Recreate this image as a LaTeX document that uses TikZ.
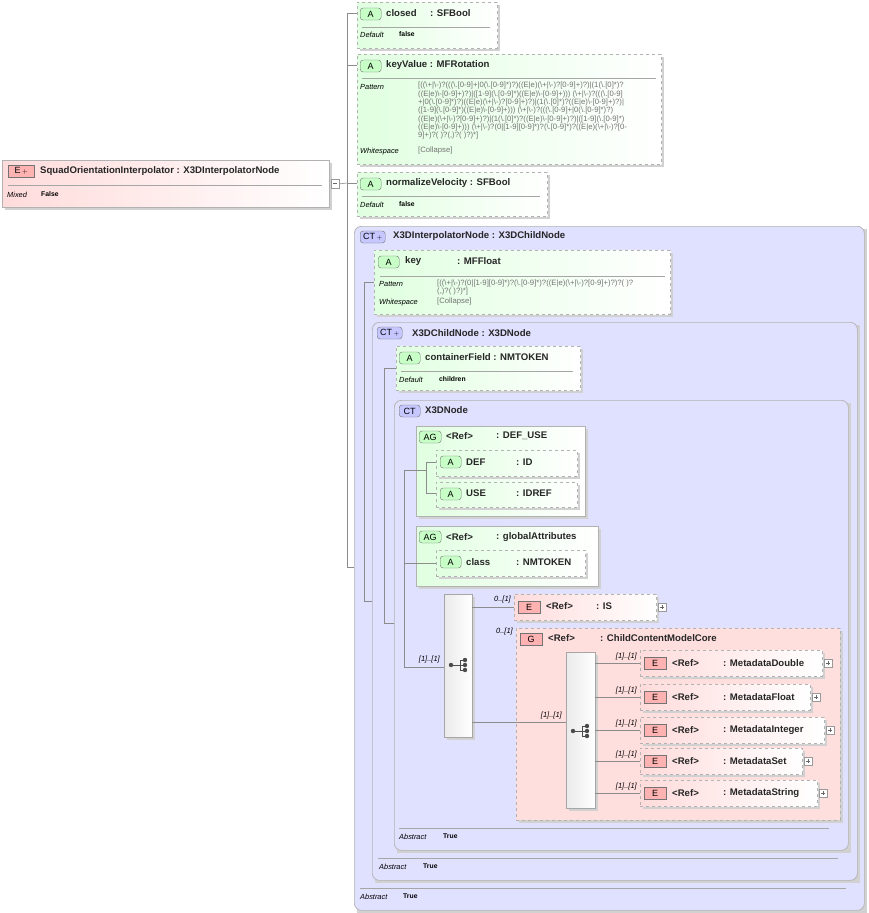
\documentclass[tikz,border=0pt]{standalone}
\usepackage{fontspec}
\setmainfont{Liberation Sans}
\begin{document}
\begin{tikzpicture}[x=1pt,y=-1pt,
  hdr/.style={font=\fontsize{9.6}{11}\selectfont\bfseries,anchor=west,inner sep=0,text=black!85},
  sm/.style={font=\fontsize{7.4}{8}\selectfont\itshape,anchor=west,inner sep=0},
  smb/.style={font=\fontsize{6.8}{8}\selectfont\bfseries,anchor=west,inner sep=0},
  pat/.style={font=\fontsize{7.7}{8}\selectfont,anchor=west,inner sep=0,text=black!55},
  lbl/.style={font=\fontsize{7.5}{8}\selectfont\itshape,inner sep=0},
  conn/.style={draw=black!45,line width=0.6pt},
]
\useasboundingbox (0,0) rectangle (869,913);
\newcommand\mybox[6]{%
  \fill[black!18] (#3+3,#4+3) rectangle (#5+3,#6+3);
  \node[#1,minimum width={(#5)-(#3)},minimum height={(#6)-(#4)},inner sep=0,anchor=north west] (#2) at (#3,#4) {};}
\tikzset{
 attr/.style={draw=black!30,dashed,line width=0.7pt,left color=green!12,right color=white},
 elem/.style={draw=black!30,dashed,line width=0.7pt,left color=red!14,right color=white},
 elems/.style={draw=black!30,line width=0.7pt,left color=red!14,right color=white},
 grp/.style={draw=black!30,dashed,line width=0.7pt,fill=red!13},
 ag/.style={draw=black!30,line width=0.7pt,left color=green!12,right color=white},
 ct/.style={draw=black!30,line width=0.7pt,fill=blue!12,rounded corners=7pt},
 seq/.style={draw=black!35,line width=0.7pt,left color=black!8,right color=white},
 bdg/.style={draw=black!55,rounded corners=3pt,minimum width=21pt,minimum height=12pt,inner sep=0,font=\fontsize{9}{9}\selectfont,anchor=west},
 bA/.style={bdg,fill=green!22},
 bAG/.style={bdg,fill=green!22,minimum width=22pt},
 bE/.style={bdg,rounded corners=0,fill=red!30,minimum width=22pt},
 bCT/.style={bdg,fill=blue!22,minimum width=25pt},
}
\newcommand\sepl[3]{\draw[black!35,line width=0.6pt] (#1,#3) -- (#2,#3);}
\newcommand\plusb[2]{\draw[black!40,fill=white] (#1,#2-4) rectangle (#1+8,#2+4); \draw[black!60] (#1+2,#2) -- (#1+6,#2) (#1+4,#2-2) -- (#1+4,#2+2);}
\newcommand\seqicon[2]{\fill[black!70] (#1-7,#2) circle (2.2) (#1+7,#2-5) circle (2.2) (#1+7,#2) circle (2.2) (#1+7,#2+5) circle (2.2);
 \draw[black!70,line width=0.8pt] (#1-7,#2) -- (#1+2,#2) (#1+2,#2-5) -- (#1+2,#2+5) (#1+2,#2-5)--(#1+7,#2-5) (#1+2,#2+5)--(#1+7,#2+5) (#1+2,#2)--(#1+7,#2);}

% ===== CT boxes
\mybox{ct}{ctI}{354}{226}{864}{910}
\node[bCT] at (360,237) {CT\,$\scriptstyle+$};
\node[hdr] at (393,236) {X3DInterpolatorNode : X3DChildNode};
\sepl{360}{846}{888}
\node[sm] at (360,897) {Abstract}; \node[smb] at (403,896) {True};

\mybox{ct}{ctC}{372}{322}{857}{880}
\node[bCT] at (377,333) {CT\,$\scriptstyle+$};
\node[hdr] at (412,333) {X3DChildNode : X3DNode};
\sepl{378}{838}{858}
\node[sm] at (379,867) {Abstract}; \node[smb] at (423,866) {True};

\mybox{ct}{ctN}{394}{400}{848}{850}
\node[bCT,minimum width=21pt] at (399,411) {CT};
\node[hdr] at (425,410) {X3DNode};
\sepl{399}{829}{828}
\node[sm] at (399,837) {Abstract}; \node[smb] at (443,836) {True};

% ===== root
\mybox{elems}{root}{2}{160}{329}{207}
\node[bE,minimum width=26pt] at (8,171) {E\,$\scriptstyle+$};
\node[hdr] at (40,171) {SquadOrientationInterpolator : X3DInterpolatorNode};
\sepl{8}{322}{185}
\node[sm] at (7,195) {Mixed}; \node[smb] at (41,194) {False};
\draw[black!40,fill=white] (331,179) rectangle (339,188); \draw[black!60] (333,183.5) -- (337,183.5);

% ===== closed
\mybox{attr}{closed}{357}{2}{497}{48}
\node[bA] at (360,14) {A};
\node[hdr] at (386,13) {closed}; \node[hdr] at (430,13) {: SFBool};
\sepl{362}{490}{27}
\node[sm] at (360,35) {Default}; \node[smb] at (399,34) {false};

% ===== keyValue
\mybox{attr}{keyValue}{357}{54}{661}{164}
\node[bA] at (360,66) {A};
\node[hdr] at (386,65) {keyValue : MFRotation};
\sepl{362}{656}{78}
\node[sm] at (360,87) {Pattern};
\node[pat] at (418,86) {\detokenize{[((\+|\-)?(((\.[0-9]+|0(\.[0-9]*)?)((E|e)(\+|\-)?[0-9]+)?)|(1(\.[0]*)?}};
\node[pat] at (418,94.3) {\detokenize{((E|e)\-[0-9]+)?)|([1-9](\.[0-9]*)((E|e)\-[0-9]+))) (\+|\-)?(((\.[0-9]}};
\node[pat] at (418,102.6) {\detokenize{+|0(\.[0-9]*)?)((E|e)(\+|\-)?[0-9]+)?)|(1(\.[0]*)?((E|e)\-[0-9]+)?)|}};
\node[pat] at (418,110.9) {\detokenize{([1-9](\.[0-9]*)((E|e)\-[0-9]+))) (\+|\-)?(((\.[0-9]+|0(\.[0-9]*)?)}};
\node[pat] at (418,119.2) {\detokenize{((E|e)(\+|\-)?[0-9]+)?)|(1(\.[0]*)?((E|e)\-[0-9]+)?)|([1-9](\.[0-9]*)}};
\node[pat] at (418,127.5) {\detokenize{((E|e)\-[0-9]+))) (\+|\-)?(0|[1-9][0-9]*)?(\.[0-9]*)?((E|e)(\+|\-)?[0-}};
\node[pat] at (418,135.8) {\detokenize{9]+)?( )?(,)?( )?)*]}};
\node[sm] at (360,152) {Whitespace}; \node[pat] at (418,151) {[Collapse]};

% ===== normalizeVelocity
\mybox{attr}{normV}{357}{172}{547}{216}
\node[bA] at (360,184) {A};
\node[hdr] at (386,183) {normalizeVelocity : SFBool};
\sepl{362}{540}{196}
\node[sm] at (360,205) {Default}; \node[smb] at (399,204) {false};

% ===== key
\mybox{attr}{key}{374}{250}{670}{314}
\node[bA] at (378,262) {A};
\node[hdr] at (405,261) {key}; \node[hdr] at (457,261) {: MFFloat};
\sepl{380}{665}{276}
\node[sm] at (379,284) {Pattern};
\node[pat] at (437,283.5) {\detokenize{[((\+|\-)?(0|[1-9][0-9]*)?(\.[0-9]*)?((E|e)(\+|\-)?[0-9]+)?)?( )?}};
\node[pat] at (437,292) {\detokenize{(,)?( )?)*]}};
\node[sm] at (379,303) {Whitespace}; \node[pat] at (437,302) {[Collapse]};

% ===== containerField
\mybox{attr}{cF}{396}{346}{580}{390}
\node[bA] at (399,358) {A};
\node[hdr] at (425,357) {containerField : NMTOKEN};
\sepl{401}{573}{371}
\node[sm] at (399,380) {Default}; \node[smb] at (439,379) {children};

% ===== AG DEF_USE
\mybox{ag}{agDU}{416}{426}{585}{516}
\node[bAG] at (419,437) {AG};
\node[hdr] at (446,436) {<Ref>}; \node[hdr] at (496,436) {: DEF\_USE};
\mybox{attr}{def}{436}{450}{577}{476}
\node[bA] at (440,462) {A};
\node[hdr] at (466,462) {DEF}; \node[hdr] at (516,462) {: ID};
\mybox{attr}{use}{436}{482}{577}{507}
\node[bA] at (440,494) {A};
\node[hdr] at (466,493) {USE}; \node[hdr] at (516,493) {: IDREF};
\draw[conn] (416,470) -- (426,470) (426,462) -- (426,493) (426,462) -- (436,462) (426,493) -- (436,493);

% ===== AG globalAttributes
\mybox{ag}{agG}{416}{526}{598}{586}
\node[bAG] at (419,537) {AG};
\node[hdr] at (446,537) {<Ref>}; \node[hdr] at (496,537) {: globalAttributes};
\mybox{attr}{cls}{436}{550}{585}{576}
\node[bA] at (440,562) {A};
\node[hdr] at (466,562) {class}; \node[hdr] at (516,562) {: NMTOKEN};
\draw[conn] (416,563) -- (436,563);

% ===== sequence 1
\mybox{seq}{seqA}{444}{594}{472}{737}
\seqicon{458}{665}
\node[lbl,anchor=east] at (440,660) {[1]..[1]};

\mybox{elem}{is}{514}{594}{656}{620}
\node[bE] at (518,607) {E};
\node[hdr] at (546,606) {<Ref>}; \node[hdr] at (596,606) {: IS};
\plusb{658}{607}
\node[lbl,anchor=east] at (511,600) {0..[1]};
\draw[conn] (472,607) -- (514,607);

\mybox{grp}{grpC}{516}{628}{840}{820}
\node[bE] at (520,639) {G};
\node[hdr] at (548,638) {<Ref>}; \node[hdr] at (600,638) {: ChildContentModelCore};
\node[lbl,anchor=east] at (513,632) {0..[1]};
\draw[conn] (472,722) -- (566,722);

\mybox{seq}{seqB}{566}{652}{595}{808}
\seqicon{580}{731}
\node[lbl,anchor=east] at (562,716) {[1]..[1]};

\newcommand\meta[4]{%
 \mybox{elem}{#4}{640}{#1-13}{#2}{#1+13}
 \node[bE] at (644,#1) {E};
 \node[hdr] at (672,#1) {<Ref>}; \node[hdr] at (723,#1) {: #3};
 \plusb{#2+2}{#1}
 \draw[conn] (595,#1) -- (640,#1);
 \node[lbl,anchor=east] at (637,#1-6) {[1]..[1]};}
\meta{663}{822}{MetadataDouble}{mD}
\meta{697}{810}{MetadataFloat}{mF}
\meta{730}{824}{MetadataInteger}{mI}
\meta{761}{802}{MetadataSet}{mS}
\meta{793}{817}{MetadataString}{mSt}

% ===== connectors
\draw[conn] (root.east) ++(10,0) -- (347,183);
\draw[conn] (357,13) -| (347,567) -- (354,567);
\draw[conn] (347,65) -- (357,65) (347,183) -- (357,183);
\draw[conn] (374,282) -| (364,601) -- (372,601);
\draw[conn] (396,368) -| (384,623) -- (394,623);
\draw[conn] (416,470) -| (404,667) -- (444,667);
\draw[conn] (404,563) -- (416,563);
\end{tikzpicture}
\end{document}
